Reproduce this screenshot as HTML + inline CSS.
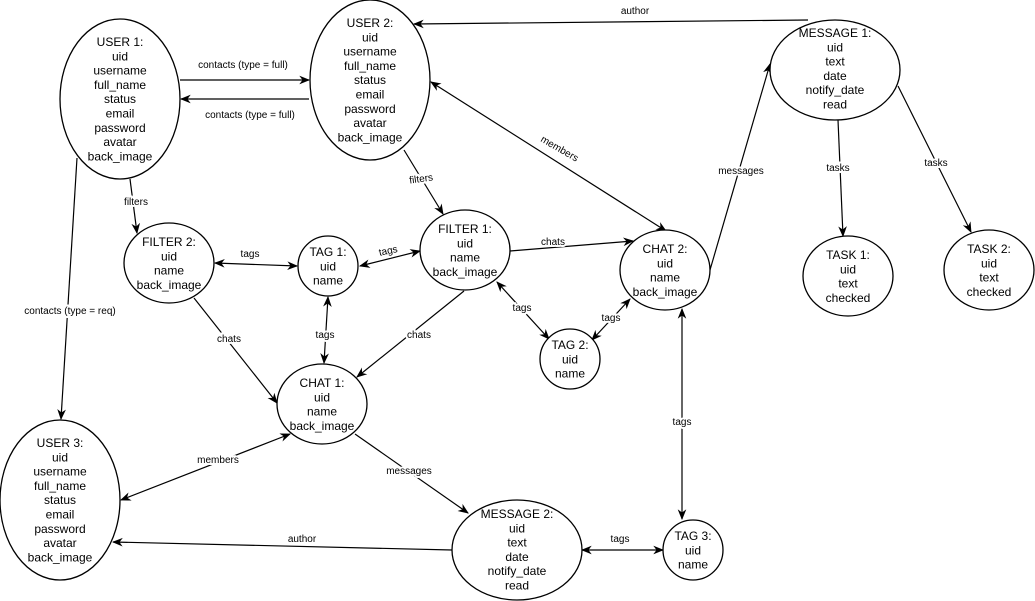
<!DOCTYPE html>
<html><head><meta charset="utf-8"><style>
html,body{margin:0;padding:0;background:#fff;}
svg{display:block;}
.n{font-family:"Liberation Sans",sans-serif;font-size:12px;fill:#000;text-anchor:middle;}
.l{font-family:"Liberation Sans",sans-serif;font-size:10px;fill:#000;text-anchor:middle;paint-order:stroke;stroke:#fff;stroke-width:4px;}
ellipse{fill:#fff;stroke:#000;stroke-width:1.3;}
line,path.e{stroke:#000;stroke-width:1.2;fill:none;}
</style></head><body>
<svg width="1035" height="601" viewBox="0 0 1035 601" xmlns="http://www.w3.org/2000/svg">
<defs>
<marker id="a" viewBox="0 0 10 10" refX="9" refY="5" markerWidth="9" markerHeight="9" orient="auto-start-reverse"><path d="M0,1 L10,5 L0,9 L3,5 z" fill="#000"/></marker>
</defs>
<!-- edges -->
<line x1="180" y1="80" x2="309" y2="80" marker-end="url(#a)"/>
<line x1="309" y1="99" x2="181" y2="99" marker-end="url(#a)"/>
<line x1="130" y1="179" x2="137" y2="233" marker-end="url(#a)"/>
<line x1="77" y1="158" x2="61" y2="419" marker-end="url(#a)"/>
<line x1="404" y1="150" x2="443" y2="214" marker-end="url(#a)"/>
<line x1="808" y1="20" x2="414" y2="24" marker-end="url(#a)"/>
<line x1="431" y1="82" x2="666" y2="231" marker-start="url(#a)" marker-end="url(#a)"/>
<line x1="215" y1="263" x2="297" y2="266" marker-start="url(#a)" marker-end="url(#a)"/>
<line x1="360" y1="266" x2="420" y2="251" marker-start="url(#a)" marker-end="url(#a)"/>
<line x1="510" y1="251" x2="633" y2="241" marker-end="url(#a)"/>
<line x1="194" y1="298" x2="277" y2="403" marker-end="url(#a)"/>
<line x1="328" y1="297" x2="324" y2="363" marker-start="url(#a)" marker-end="url(#a)"/>
<line x1="464" y1="291" x2="357" y2="377" marker-end="url(#a)"/>
<line x1="497" y1="282" x2="549" y2="339" marker-start="url(#a)" marker-end="url(#a)"/>
<line x1="592" y1="340" x2="630" y2="299" marker-start="url(#a)" marker-end="url(#a)"/>
<line x1="710" y1="270" x2="770" y2="64" marker-end="url(#a)"/>
<line x1="838" y1="120" x2="843" y2="236" marker-end="url(#a)"/>
<line x1="898" y1="86" x2="971" y2="232" marker-end="url(#a)"/>
<line x1="682" y1="309" x2="682" y2="519" marker-start="url(#a)" marker-end="url(#a)"/>
<line x1="582" y1="550" x2="663" y2="550" marker-start="url(#a)" marker-end="url(#a)"/>
<line x1="290" y1="434" x2="121" y2="500" marker-start="url(#a)" marker-end="url(#a)"/>
<line x1="355" y1="434" x2="468" y2="513" marker-end="url(#a)"/>
<line x1="452" y1="550" x2="113" y2="542" marker-end="url(#a)"/>
<!-- edge labels -->
<text class="l" x="243" y="68">contacts (type = full)</text>
<text class="l" x="250" y="118">contacts (type = full)</text>
<text class="l" x="136" y="205">filters</text>
<text class="l" x="70" y="314">contacts (type = req)</text>
<text class="l" x="421" y="182" transform="rotate(-8 421 178)">filters</text>
<text class="l" x="635" y="14">author</text>
<text class="l" x="560" y="152" transform="rotate(30 560 148)">members</text>
<text class="l" x="250" y="257">tags</text>
<text class="l" x="388" y="254" transform="rotate(-12 388 250)">tags</text>
<text class="l" x="553" y="245">chats</text>
<text class="l" x="229" y="342">chats</text>
<text class="l" x="325" y="338">tags</text>
<text class="l" x="419" y="338">chats</text>
<text class="l" x="522" y="311">tags</text>
<text class="l" x="611" y="321">tags</text>
<text class="l" x="741" y="174">messages</text>
<text class="l" x="838" y="171">tasks</text>
<text class="l" x="936" y="166">tasks</text>
<text class="l" x="682" y="425">tags</text>
<text class="l" x="620" y="542">tags</text>
<text class="l" x="218" y="463">members</text>
<text class="l" x="409" y="474">messages</text>
<text class="l" x="302" y="542">author</text>
<!-- nodes -->
<ellipse cx="120" cy="99" rx="60" ry="80"/>
<text class="n" x="120" y="46"><tspan x="120">USER 1:</tspan><tspan x="120" dy="14.3">uid</tspan><tspan x="120" dy="14.3">username</tspan><tspan x="120" dy="14.3">full_name</tspan><tspan x="120" dy="14.3">status</tspan><tspan x="120" dy="14.3">email</tspan><tspan x="120" dy="14.3">password</tspan><tspan x="120" dy="14.3">avatar</tspan><tspan x="120" dy="14.3">back_image</tspan></text>
<ellipse cx="370" cy="80" rx="60" ry="80"/>
<text class="n" x="370" y="27"><tspan x="370">USER 2:</tspan><tspan x="370" dy="14.3">uid</tspan><tspan x="370" dy="14.3">username</tspan><tspan x="370" dy="14.3">full_name</tspan><tspan x="370" dy="14.3">status</tspan><tspan x="370" dy="14.3">email</tspan><tspan x="370" dy="14.3">password</tspan><tspan x="370" dy="14.3">avatar</tspan><tspan x="370" dy="14.3">back_image</tspan></text>
<ellipse cx="60" cy="500" rx="60" ry="80"/>
<text class="n" x="60" y="447"><tspan x="60">USER 3:</tspan><tspan x="60" dy="14.3">uid</tspan><tspan x="60" dy="14.3">username</tspan><tspan x="60" dy="14.3">full_name</tspan><tspan x="60" dy="14.3">status</tspan><tspan x="60" dy="14.3">email</tspan><tspan x="60" dy="14.3">password</tspan><tspan x="60" dy="14.3">avatar</tspan><tspan x="60" dy="14.3">back_image</tspan></text>
<ellipse cx="169" cy="263" rx="45" ry="40"/>
<text class="n" x="169" y="246"><tspan x="169">FILTER 2:</tspan><tspan x="169" dy="14.3">uid</tspan><tspan x="169" dy="14.3">name</tspan><tspan x="169" dy="14.3">back_image</tspan></text>
<ellipse cx="328" cy="266" rx="30" ry="30"/>
<text class="n" x="328" y="256"><tspan x="328">TAG 1:</tspan><tspan x="328" dy="14.3">uid</tspan><tspan x="328" dy="14.3">name</tspan></text>
<ellipse cx="465" cy="250" rx="45" ry="40"/>
<text class="n" x="465" y="233"><tspan x="465">FILTER 1:</tspan><tspan x="465" dy="14.3">uid</tspan><tspan x="465" dy="14.3">name</tspan><tspan x="465" dy="14.3">back_image</tspan></text>
<ellipse cx="322" cy="404" rx="45" ry="40"/>
<text class="n" x="322" y="387"><tspan x="322">CHAT 1:</tspan><tspan x="322" dy="14.3">uid</tspan><tspan x="322" dy="14.3">name</tspan><tspan x="322" dy="14.3">back_image</tspan></text>
<ellipse cx="665" cy="270" rx="45" ry="40"/>
<text class="n" x="665" y="253"><tspan x="665">CHAT 2:</tspan><tspan x="665" dy="14.3">uid</tspan><tspan x="665" dy="14.3">name</tspan><tspan x="665" dy="14.3">back_image</tspan></text>
<ellipse cx="570" cy="359" rx="30" ry="30"/>
<text class="n" x="570" y="349"><tspan x="570">TAG 2:</tspan><tspan x="570" dy="14.3">uid</tspan><tspan x="570" dy="14.3">name</tspan></text>
<ellipse cx="693" cy="550" rx="30" ry="30"/>
<text class="n" x="693" y="540"><tspan x="693">TAG 3:</tspan><tspan x="693" dy="14.3">uid</tspan><tspan x="693" dy="14.3">name</tspan></text>
<ellipse cx="835" cy="70" rx="65" ry="50"/>
<text class="n" x="835" y="37"><tspan x="835">MESSAGE 1:</tspan><tspan x="835" dy="14.3">uid</tspan><tspan x="835" dy="14.3">text</tspan><tspan x="835" dy="14.3">date</tspan><tspan x="835" dy="14.3">notify_date</tspan><tspan x="835" dy="14.3">read</tspan></text>
<ellipse cx="517" cy="550" rx="65" ry="50"/>
<text class="n" x="517" y="518"><tspan x="517">MESSAGE 2:</tspan><tspan x="517" dy="14.3">uid</tspan><tspan x="517" dy="14.3">text</tspan><tspan x="517" dy="14.3">date</tspan><tspan x="517" dy="14.3">notify_date</tspan><tspan x="517" dy="14.3">read</tspan></text>
<ellipse cx="848" cy="276" rx="45" ry="40"/>
<text class="n" x="848" y="259"><tspan x="848">TASK 1:</tspan><tspan x="848" dy="14.3">uid</tspan><tspan x="848" dy="14.3">text</tspan><tspan x="848" dy="14.3">checked</tspan></text>
<ellipse cx="989" cy="270" rx="45" ry="40"/>
<text class="n" x="989" y="253"><tspan x="989">TASK 2:</tspan><tspan x="989" dy="14.3">uid</tspan><tspan x="989" dy="14.3">text</tspan><tspan x="989" dy="14.3">checked</tspan></text>
</svg>
</body></html>
